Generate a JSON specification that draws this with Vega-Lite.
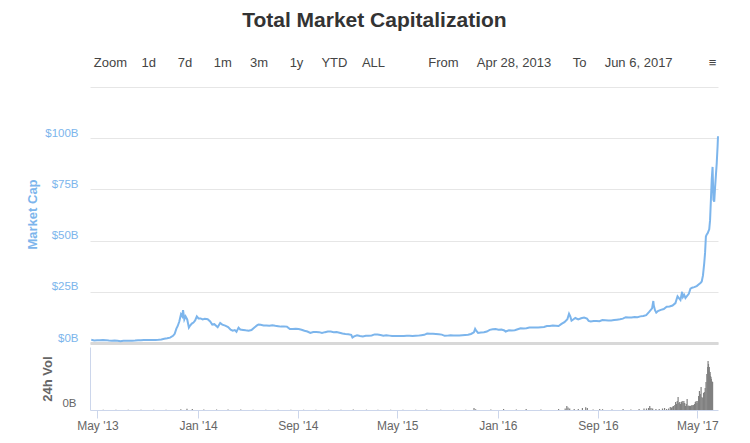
{
  "$schema": "https://vega.github.io/schema/vega-lite/v6.json",
  "background": "white",
  "padding": {"left": 26, "right": 29, "top": 10, "bottom": 5},
  "title": {
    "text": "Total Market Capitalization",
    "subtitle": "\u200b\u00a0\u00a0\u00a0\u00a0\u00a0\u00a0\u00a0\u00a0\u00a0\u00a0\u00a0\u00a0\u00a0\u00a0\u00a0\u00a0\u00a0Zoom\u00a0\u00a0\u00a0\u00a01d\u00a0\u00a0\u00a0\u00a0\u00a0\u00a07d\u00a0\u00a0\u00a0\u00a0\u00a0\u00a01m\u00a0\u00a0\u00a0\u00a0\u00a03m\u00a0\u00a0\u00a0\u00a0\u00a0\u00a01y\u00a0\u00a0\u00a0\u00a0\u00a0YTD\u00a0\u00a0\u00a0\u00a0ALL\u00a0\u00a0\u00a0\u00a0\u00a0\u00a0\u00a0\u00a0\u00a0\u00a0\u00a0\u00a0From\u00a0\u00a0\u00a0\u00a0\u00a0Apr 28, 2013\u00a0\u00a0\u00a0\u00a0\u00a0\u00a0To\u00a0\u00a0\u00a0\u00a0\u00a0Jun 6, 2017\u00a0\u00a0\u00a0\u00a0\u00a0\u00a0\u00a0\u00a0\u00a0\u00a0\u2261",
    "font": "Liberation Sans",
    "fontSize": 21,
    "fontWeight": "bold",
    "color": "#333333",
    "subtitleFont": "Liberation Sans",
    "subtitleFontSize": 13,
    "subtitleColor": "#444444",
    "subtitlePadding": 26,
    "offset": 15,
    "anchor": "middle"
  },
  "datasets": {
    "cap": [
      {"date": "2013-04-28", "cap": 1.55}, {"date": "2013-05-05", "cap": 1.25}, {"date": "2013-05-12", "cap": 1.3}, {"date": "2013-05-19", "cap": 1.35},
      {"date": "2013-05-26", "cap": 1.45}, {"date": "2013-06-02", "cap": 1.4}, {"date": "2013-06-09", "cap": 1.2}, {"date": "2013-06-16", "cap": 1.15},
      {"date": "2013-06-23", "cap": 1.2}, {"date": "2013-06-30", "cap": 1.05}, {"date": "2013-07-07", "cap": 0.85}, {"date": "2013-07-14", "cap": 1.05},
      {"date": "2013-07-21", "cap": 1.05}, {"date": "2013-07-28", "cap": 1.1}, {"date": "2013-08-04", "cap": 1.15}, {"date": "2013-08-11", "cap": 1.2},
      {"date": "2013-08-18", "cap": 1.3}, {"date": "2013-08-25", "cap": 1.35}, {"date": "2013-09-01", "cap": 1.5}, {"date": "2013-09-08", "cap": 1.5},
      {"date": "2013-09-15", "cap": 1.45}, {"date": "2013-09-22", "cap": 1.45}, {"date": "2013-09-29", "cap": 1.5}, {"date": "2013-10-06", "cap": 1.55},
      {"date": "2013-10-13", "cap": 1.7}, {"date": "2013-10-20", "cap": 2.1}, {"date": "2013-10-27", "cap": 2.3}, {"date": "2013-11-03", "cap": 2.6},
      {"date": "2013-11-10", "cap": 3.5}, {"date": "2013-11-14", "cap": 4.5}, {"date": "2013-11-18", "cap": 7.0}, {"date": "2013-11-21", "cap": 8.2},
      {"date": "2013-11-25", "cap": 10.5}, {"date": "2013-11-29", "cap": 14.0}, {"date": "2013-12-02", "cap": 13.0}, {"date": "2013-12-04", "cap": 16.0},
      {"date": "2013-12-07", "cap": 11.5}, {"date": "2013-12-10", "cap": 13.0}, {"date": "2013-12-14", "cap": 11.5}, {"date": "2013-12-18", "cap": 7.5},
      {"date": "2013-12-21", "cap": 8.5}, {"date": "2013-12-25", "cap": 9.5}, {"date": "2013-12-29", "cap": 10.0}, {"date": "2014-01-02", "cap": 11.0},
      {"date": "2014-01-06", "cap": 13.0}, {"date": "2014-01-10", "cap": 12.0}, {"date": "2014-01-15", "cap": 12.0}, {"date": "2014-01-20", "cap": 11.5},
      {"date": "2014-01-25", "cap": 11.8}, {"date": "2014-02-01", "cap": 11.6}, {"date": "2014-02-07", "cap": 10.5}, {"date": "2014-02-12", "cap": 9.0},
      {"date": "2014-02-17", "cap": 9.2}, {"date": "2014-02-25", "cap": 7.7}, {"date": "2014-03-03", "cap": 9.8}, {"date": "2014-03-08", "cap": 9.0},
      {"date": "2014-03-15", "cap": 8.5}, {"date": "2014-03-22", "cap": 7.8}, {"date": "2014-03-28", "cap": 6.5}, {"date": "2014-04-02", "cap": 6.0},
      {"date": "2014-04-07", "cap": 6.3}, {"date": "2014-04-11", "cap": 5.5}, {"date": "2014-04-16", "cap": 7.5}, {"date": "2014-04-20", "cap": 6.6},
      {"date": "2014-04-27", "cap": 6.4}, {"date": "2014-05-03", "cap": 6.2}, {"date": "2014-05-10", "cap": 6.0}, {"date": "2014-05-17", "cap": 6.3},
      {"date": "2014-05-24", "cap": 7.6}, {"date": "2014-05-31", "cap": 8.7}, {"date": "2014-06-03", "cap": 9.0}, {"date": "2014-06-08", "cap": 8.9},
      {"date": "2014-06-15", "cap": 8.6}, {"date": "2014-06-22", "cap": 8.5}, {"date": "2014-06-29", "cap": 8.4}, {"date": "2014-07-06", "cap": 8.7},
      {"date": "2014-07-13", "cap": 8.4}, {"date": "2014-07-20", "cap": 8.2}, {"date": "2014-07-27", "cap": 8.0}, {"date": "2014-08-03", "cap": 8.1},
      {"date": "2014-08-10", "cap": 8.0}, {"date": "2014-08-17", "cap": 6.8}, {"date": "2014-08-24", "cap": 6.8}, {"date": "2014-08-31", "cap": 6.9},
      {"date": "2014-09-07", "cap": 6.8}, {"date": "2014-09-14", "cap": 6.5}, {"date": "2014-09-21", "cap": 6.0}, {"date": "2014-09-28", "cap": 5.6},
      {"date": "2014-10-05", "cap": 4.9}, {"date": "2014-10-12", "cap": 5.4}, {"date": "2014-10-19", "cap": 5.4}, {"date": "2014-10-26", "cap": 5.3},
      {"date": "2014-11-02", "cap": 4.9}, {"date": "2014-11-09", "cap": 5.3}, {"date": "2014-11-16", "cap": 5.6}, {"date": "2014-11-23", "cap": 5.6},
      {"date": "2014-11-30", "cap": 5.3}, {"date": "2014-12-07", "cap": 5.4}, {"date": "2014-12-14", "cap": 5.0}, {"date": "2014-12-21", "cap": 4.6},
      {"date": "2014-12-28", "cap": 4.4}, {"date": "2015-01-04", "cap": 4.3}, {"date": "2015-01-11", "cap": 4.0}, {"date": "2015-01-14", "cap": 2.7},
      {"date": "2015-01-18", "cap": 3.2}, {"date": "2015-01-25", "cap": 3.8}, {"date": "2015-02-01", "cap": 3.4}, {"date": "2015-02-08", "cap": 3.2},
      {"date": "2015-02-15", "cap": 3.5}, {"date": "2015-02-22", "cap": 3.6}, {"date": "2015-03-01", "cap": 3.7}, {"date": "2015-03-08", "cap": 4.2},
      {"date": "2015-03-15", "cap": 4.1}, {"date": "2015-03-22", "cap": 3.9}, {"date": "2015-03-29", "cap": 3.6}, {"date": "2015-04-05", "cap": 3.8},
      {"date": "2015-04-12", "cap": 3.6}, {"date": "2015-04-19", "cap": 3.4}, {"date": "2015-04-26", "cap": 3.4}, {"date": "2015-05-03", "cap": 3.4},
      {"date": "2015-05-10", "cap": 3.4}, {"date": "2015-05-17", "cap": 3.4}, {"date": "2015-05-24", "cap": 3.5}, {"date": "2015-05-31", "cap": 3.5},
      {"date": "2015-06-07", "cap": 3.4}, {"date": "2015-06-14", "cap": 3.5}, {"date": "2015-06-21", "cap": 3.6}, {"date": "2015-06-28", "cap": 3.8},
      {"date": "2015-07-05", "cap": 4.0}, {"date": "2015-07-12", "cap": 4.6}, {"date": "2015-07-19", "cap": 4.5}, {"date": "2015-07-26", "cap": 4.5},
      {"date": "2015-08-02", "cap": 4.4}, {"date": "2015-08-09", "cap": 4.3}, {"date": "2015-08-16", "cap": 4.1}, {"date": "2015-08-23", "cap": 3.5},
      {"date": "2015-08-30", "cap": 3.6}, {"date": "2015-09-06", "cap": 3.8}, {"date": "2015-09-13", "cap": 3.7}, {"date": "2015-09-20", "cap": 3.7},
      {"date": "2015-09-27", "cap": 3.7}, {"date": "2015-10-04", "cap": 3.8}, {"date": "2015-10-11", "cap": 3.9}, {"date": "2015-10-18", "cap": 4.0},
      {"date": "2015-10-25", "cap": 4.4}, {"date": "2015-11-01", "cap": 5.2}, {"date": "2015-11-04", "cap": 6.9}, {"date": "2015-11-07", "cap": 5.9},
      {"date": "2015-11-11", "cap": 4.9}, {"date": "2015-11-18", "cap": 5.1}, {"date": "2015-11-25", "cap": 5.3}, {"date": "2015-12-02", "cap": 5.6},
      {"date": "2015-12-09", "cap": 6.4}, {"date": "2015-12-16", "cap": 6.7}, {"date": "2015-12-23", "cap": 6.8}, {"date": "2015-12-30", "cap": 6.5},
      {"date": "2016-01-06", "cap": 6.6}, {"date": "2016-01-13", "cap": 6.1}, {"date": "2016-01-16", "cap": 5.6}, {"date": "2016-01-24", "cap": 6.2},
      {"date": "2016-01-31", "cap": 6.1}, {"date": "2016-02-07", "cap": 6.2}, {"date": "2016-02-14", "cap": 6.7}, {"date": "2016-02-21", "cap": 7.2},
      {"date": "2016-02-28", "cap": 7.1}, {"date": "2016-03-06", "cap": 7.2}, {"date": "2016-03-13", "cap": 7.6}, {"date": "2016-03-20", "cap": 7.6},
      {"date": "2016-03-27", "cap": 7.6}, {"date": "2016-04-03", "cap": 7.6}, {"date": "2016-04-10", "cap": 7.7}, {"date": "2016-04-17", "cap": 7.8},
      {"date": "2016-04-24", "cap": 8.3}, {"date": "2016-05-01", "cap": 8.3}, {"date": "2016-05-08", "cap": 8.5}, {"date": "2016-05-15", "cap": 8.4},
      {"date": "2016-05-22", "cap": 8.3}, {"date": "2016-05-29", "cap": 9.3}, {"date": "2016-06-05", "cap": 10.2}, {"date": "2016-06-12", "cap": 11.6},
      {"date": "2016-06-16", "cap": 14.3}, {"date": "2016-06-19", "cap": 13.0}, {"date": "2016-06-22", "cap": 10.9}, {"date": "2016-06-26", "cap": 11.5},
      {"date": "2016-07-01", "cap": 12.2}, {"date": "2016-07-08", "cap": 11.5}, {"date": "2016-07-15", "cap": 12.1}, {"date": "2016-07-22", "cap": 12.4},
      {"date": "2016-07-29", "cap": 11.9}, {"date": "2016-08-02", "cap": 10.8}, {"date": "2016-08-07", "cap": 10.5}, {"date": "2016-08-14", "cap": 10.7},
      {"date": "2016-08-21", "cap": 10.7}, {"date": "2016-08-28", "cap": 10.6}, {"date": "2016-09-04", "cap": 11.2}, {"date": "2016-09-11", "cap": 11.1},
      {"date": "2016-09-18", "cap": 11.0}, {"date": "2016-09-25", "cap": 11.0}, {"date": "2016-10-02", "cap": 11.2}, {"date": "2016-10-09", "cap": 11.4},
      {"date": "2016-10-16", "cap": 11.6}, {"date": "2016-10-23", "cap": 11.9}, {"date": "2016-10-30", "cap": 12.6}, {"date": "2016-11-06", "cap": 12.5},
      {"date": "2016-11-13", "cap": 12.5}, {"date": "2016-11-20", "cap": 12.7}, {"date": "2016-11-27", "cap": 12.6}, {"date": "2016-12-04", "cap": 13.0},
      {"date": "2016-12-11", "cap": 13.2}, {"date": "2016-12-18", "cap": 13.6}, {"date": "2016-12-25", "cap": 15.2}, {"date": "2017-01-01", "cap": 16.9},
      {"date": "2017-01-04", "cap": 20.5}, {"date": "2017-01-05", "cap": 18.5}, {"date": "2017-01-08", "cap": 16.0}, {"date": "2017-01-11", "cap": 14.8},
      {"date": "2017-01-15", "cap": 15.6}, {"date": "2017-01-22", "cap": 16.2}, {"date": "2017-01-29", "cap": 16.6}, {"date": "2017-02-05", "cap": 17.7},
      {"date": "2017-02-12", "cap": 17.8}, {"date": "2017-02-19", "cap": 18.3}, {"date": "2017-02-26", "cap": 19.5}, {"date": "2017-03-03", "cap": 22.8},
      {"date": "2017-03-06", "cap": 22.0}, {"date": "2017-03-10", "cap": 21.0}, {"date": "2017-03-14", "cap": 25.0}, {"date": "2017-03-16", "cap": 22.5},
      {"date": "2017-03-19", "cap": 23.5}, {"date": "2017-03-22", "cap": 22.0}, {"date": "2017-03-26", "cap": 23.0}, {"date": "2017-03-30", "cap": 24.0},
      {"date": "2017-04-03", "cap": 26.5}, {"date": "2017-04-07", "cap": 27.0}, {"date": "2017-04-12", "cap": 27.3}, {"date": "2017-04-18", "cap": 27.8},
      {"date": "2017-04-24", "cap": 28.8}, {"date": "2017-04-27", "cap": 29.3}, {"date": "2017-04-30", "cap": 30.0}, {"date": "2017-05-03", "cap": 33.0},
      {"date": "2017-05-06", "cap": 39.0}, {"date": "2017-05-08", "cap": 44.0}, {"date": "2017-05-10", "cap": 52.0}, {"date": "2017-05-12", "cap": 53.0},
      {"date": "2017-05-14", "cap": 53.5}, {"date": "2017-05-16", "cap": 54.5}, {"date": "2017-05-18", "cap": 55.5}, {"date": "2017-05-20", "cap": 60.0},
      {"date": "2017-05-22", "cap": 70.0}, {"date": "2017-05-24", "cap": 80.0}, {"date": "2017-05-26", "cap": 86.0}, {"date": "2017-05-27", "cap": 78.0},
      {"date": "2017-05-28", "cap": 70.0}, {"date": "2017-05-30", "cap": 69.0}, {"date": "2017-06-01", "cap": 76.0}, {"date": "2017-06-03", "cap": 82.0},
      {"date": "2017-06-05", "cap": 88.0}, {"date": "2017-06-07", "cap": 96.0}, {"date": "2017-06-08", "cap": 101.0}
    ],
    "vol": [
      {"date": "2013-05-15", "vol": 0.03}, {"date": "2013-06-15", "vol": 0.02}, {"date": "2013-07-15", "vol": 0.02}, {"date": "2013-08-15", "vol": 0.02},
      {"date": "2013-09-15", "vol": 0.02}, {"date": "2013-10-15", "vol": 0.03}, {"date": "2013-11-20", "vol": 0.08}, {"date": "2013-12-05", "vol": 0.12},
      {"date": "2013-12-18", "vol": 0.1}, {"date": "2014-01-15", "vol": 0.06}, {"date": "2014-02-15", "vol": 0.05}, {"date": "2014-03-15", "vol": 0.04},
      {"date": "2014-04-15", "vol": 0.04}, {"date": "2014-05-15", "vol": 0.03}, {"date": "2014-06-15", "vol": 0.03}, {"date": "2014-07-15", "vol": 0.02},
      {"date": "2014-08-15", "vol": 0.03}, {"date": "2014-09-15", "vol": 0.03}, {"date": "2014-10-15", "vol": 0.03}, {"date": "2014-11-15", "vol": 0.03},
      {"date": "2014-12-15", "vol": 0.02}, {"date": "2015-01-14", "vol": 0.06}, {"date": "2015-02-15", "vol": 0.03}, {"date": "2015-03-15", "vol": 0.03},
      {"date": "2015-04-15", "vol": 0.02}, {"date": "2015-05-15", "vol": 0.02}, {"date": "2015-06-15", "vol": 0.02}, {"date": "2015-07-12", "vol": 0.04},
      {"date": "2015-08-15", "vol": 0.03}, {"date": "2015-09-15", "vol": 0.02}, {"date": "2015-10-15", "vol": 0.03}, {"date": "2015-11-04", "vol": 0.2},
      {"date": "2015-11-08", "vol": 0.08}, {"date": "2015-12-15", "vol": 0.05}, {"date": "2016-01-15", "vol": 0.1}, {"date": "2016-02-15", "vol": 0.05},
      {"date": "2016-03-10", "vol": 0.1}, {"date": "2016-04-15", "vol": 0.05}, {"date": "2016-05-28", "vol": 0.1}, {"date": "2016-06-13", "vol": 0.15},
      {"date": "2016-06-17", "vol": 0.4}, {"date": "2016-06-20", "vol": 0.25}, {"date": "2016-06-24", "vol": 0.15}, {"date": "2016-07-05", "vol": 0.1},
      {"date": "2016-07-15", "vol": 0.1}, {"date": "2016-07-25", "vol": 0.2}, {"date": "2016-08-02", "vol": 0.27}, {"date": "2016-08-06", "vol": 0.2},
      {"date": "2016-08-20", "vol": 0.05}, {"date": "2016-09-05", "vol": 0.1}, {"date": "2016-09-12", "vol": 0.08}, {"date": "2016-10-05", "vol": 0.05},
      {"date": "2016-11-01", "vol": 0.1}, {"date": "2016-11-20", "vol": 0.05}, {"date": "2016-12-10", "vol": 0.1}, {"date": "2016-12-22", "vol": 0.15},
      {"date": "2016-12-28", "vol": 0.15}, {"date": "2017-01-02", "vol": 0.2}, {"date": "2017-01-05", "vol": 0.4}, {"date": "2017-01-08", "vol": 0.2},
      {"date": "2017-01-12", "vol": 0.15}, {"date": "2017-01-20", "vol": 0.1}, {"date": "2017-01-28", "vol": 0.1}, {"date": "2017-02-05", "vol": 0.15},
      {"date": "2017-02-10", "vol": 0.2}, {"date": "2017-02-15", "vol": 0.1}, {"date": "2017-02-20", "vol": 0.15}, {"date": "2017-02-24", "vol": 0.3},
      {"date": "2017-02-27", "vol": 0.25}, {"date": "2017-03-02", "vol": 0.35}, {"date": "2017-03-04", "vol": 0.4}, {"date": "2017-03-07", "vol": 0.5},
      {"date": "2017-03-09", "vol": 0.8}, {"date": "2017-03-11", "vol": 0.6}, {"date": "2017-03-13", "vol": 0.9}, {"date": "2017-03-15", "vol": 1.3},
      {"date": "2017-03-17", "vol": 0.7}, {"date": "2017-03-19", "vol": 0.8}, {"date": "2017-03-21", "vol": 0.6}, {"date": "2017-03-23", "vol": 0.8},
      {"date": "2017-03-25", "vol": 0.9}, {"date": "2017-03-27", "vol": 0.7}, {"date": "2017-03-29", "vol": 0.9}, {"date": "2017-03-31", "vol": 0.7},
      {"date": "2017-04-02", "vol": 0.4}, {"date": "2017-04-04", "vol": 0.6}, {"date": "2017-04-06", "vol": 1.1}, {"date": "2017-04-08", "vol": 0.4},
      {"date": "2017-04-10", "vol": 0.45}, {"date": "2017-04-12", "vol": 0.4}, {"date": "2017-04-14", "vol": 0.4}, {"date": "2017-04-16", "vol": 0.45},
      {"date": "2017-04-18", "vol": 0.5}, {"date": "2017-04-20", "vol": 0.45}, {"date": "2017-04-22", "vol": 0.5}, {"date": "2017-04-24", "vol": 0.6},
      {"date": "2017-04-26", "vol": 0.8}, {"date": "2017-04-28", "vol": 0.9}, {"date": "2017-04-30", "vol": 0.7}, {"date": "2017-05-02", "vol": 0.9},
      {"date": "2017-05-04", "vol": 1.4}, {"date": "2017-05-06", "vol": 1.9}, {"date": "2017-05-08", "vol": 1.6}, {"date": "2017-05-10", "vol": 2.3},
      {"date": "2017-05-12", "vol": 1.3}, {"date": "2017-05-14", "vol": 1.2}, {"date": "2017-05-16", "vol": 1.7}, {"date": "2017-05-18", "vol": 1.8},
      {"date": "2017-05-20", "vol": 2.2}, {"date": "2017-05-22", "vol": 2.8}, {"date": "2017-05-24", "vol": 3.6}, {"date": "2017-05-26", "vol": 4.3},
      {"date": "2017-05-27", "vol": 4.9}, {"date": "2017-05-28", "vol": 4.6}, {"date": "2017-05-29", "vol": 3.9}, {"date": "2017-05-30", "vol": 4.3},
      {"date": "2017-05-31", "vol": 3.6}, {"date": "2017-06-01", "vol": 3.8}, {"date": "2017-06-02", "vol": 3.4}, {"date": "2017-06-03", "vol": 3.3},
      {"date": "2017-06-04", "vol": 3.1}, {"date": "2017-06-05", "vol": 2.9}, {"date": "2017-06-06", "vol": 2.8}, {"date": "2017-06-07", "vol": 2.8}
    ]
  },
  "spacing": 1,
  "vconcat": [
    {
      "width": 628,
      "height": 258,
      "data": {"name": "cap"},
      "mark": {"type": "line", "color": "#7cb5ec", "strokeWidth": 2},
      "encoding": {
        "x": {
          "field": "date", "type": "temporal",
          "scale": {"type": "utc", "domain": [{"year": 2013, "month": 4, "date": 25, "utc": true}, {"year": 2017, "month": 6, "date": 8, "utc": true}]},
          "axis": {"labels": false, "ticks": false, "grid": false, "title": null, "domainColor": "#d8d8d8", "domainWidth": 3}
        },
        "y": {
          "field": "cap", "type": "quantitative",
          "scale": {"domain": [0, 126], "nice": false},
          "axis": {
            "values": [0, 25, 50, 75, 100, 125],
            "labelExpr": "datum.value >= 125 ? '' : '$' + datum.value + 'B'",
            "labelColor": "#7cb5ec", "labelFont": "Liberation Sans", "labelFontSize": 11.5, "labelOffset": -5, "labelPadding": 12,
            "domain": false, "ticks": false, "gridColor": "#e6e6e6",
            "title": "Market Cap", "titleColor": "#7cb5ec", "titleFont": "Liberation Sans", "titleFontSize": 13, "titleFontWeight": "bold", "titlePadding": 5
          }
        }
      }
    },
    {
      "width": 628,
      "height": 63,
      "data": {"name": "vol"},
      "mark": {"type": "bar", "color": "#808080", "width": 1.2},
      "encoding": {
        "x": {
          "field": "date", "type": "temporal",
          "scale": {"type": "utc", "domain": [{"year": 2013, "month": 4, "date": 25, "utc": true}, {"year": 2017, "month": 6, "date": 8, "utc": true}]},
          "axis": {
            "values": [
              {"year": 2013, "month": 5, "date": 1, "utc": true}, {"year": 2014, "month": 1, "date": 1, "utc": true},
              {"year": 2014, "month": 9, "date": 1, "utc": true}, {"year": 2015, "month": 5, "date": 1, "utc": true},
              {"year": 2016, "month": 1, "date": 1, "utc": true}, {"year": 2016, "month": 9, "date": 1, "utc": true},
              {"year": 2017, "month": 5, "date": 1, "utc": true}
            ],
            "labelExpr": "utcFormat(datum.value, \"%b '%y\")",
            "labelColor": "#666666", "labelFont": "Liberation Sans", "labelFontSize": 12, "labelPadding": 2, "labelFlush": false,
            "tickColor": "#ccd6eb", "tickSize": 8, "domainColor": "#ccd6eb", "grid": false, "title": null
          }
        },
        "y": {
          "field": "vol", "type": "quantitative",
          "scale": {"domain": [0, 6.3], "nice": false},
          "axis": {
            "values": [0], "labelExpr": "'0B'",
            "labelColor": "#666666", "labelFont": "Liberation Sans", "labelFontSize": 11.5, "labelOffset": -7, "labelPadding": 14,
            "domainColor": "#ccd6eb", "ticks": false, "grid": false,
            "title": "24h Vol", "titleColor": "#666666", "titleFont": "Liberation Sans", "titleFontSize": 13, "titleFontWeight": "bold", "titlePadding": 7
          }
        }
      }
    }
  ],
  "config": {"view": {"stroke": null}, "font": "Liberation Sans"}
}
